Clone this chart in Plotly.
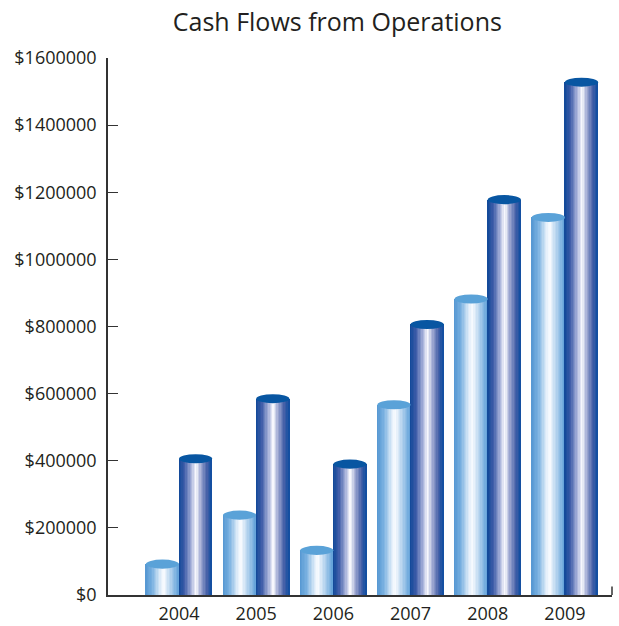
import plotly.graph_objects as go

# Operating cash flows per year, two series drawn as shaded cylinders
years = [2004, 2005, 2006, 2007, 2008, 2009]
series_light = [92000, 238000, 133000, 567000, 882000, 1125000]
series_dark = [406000, 585000, 390000, 806000, 1178000, 1528000]
y_ticks = [0, 200000, 400000, 600000, 800000, 1000000, 1200000, 1400000, 1600000]
y_tick_labels = [f"${v}" for v in y_ticks]

BAR_W = 0.43          # width of one cylinder, in year units
N_STRIPS = 24         # vertical strips used to fake the cylindrical shading
CAP_H = 13500         # half height of the elliptical cap, in dollars

light_stops = [(0.0, (84, 150, 210)), (0.2, (120, 176, 224)), (0.45, (224, 237, 249)),
               (0.55, (250, 252, 255)), (0.68, (205, 225, 244)), (0.88, (136, 185, 227)),
               (1.0, (96, 160, 216))]
dark_stops = [(0.0, (14, 72, 152)), (0.18, (62, 92, 168)), (0.38, (165, 176, 217)),
              (0.53, (252, 252, 255)), (0.66, (165, 174, 213)), (0.85, (72, 98, 168)),
              (1.0, (12, 76, 160))]
light_cap = "#5aa2d8"
dark_cap = "#0856a2"


def shade(stops, t):
    for (t0, c0), (t1, c1) in zip(stops, stops[1:]):
        if t0 <= t <= t1:
            f = (t - t0) / (t1 - t0)
            r, g, b = (round(a + (b_ - a) * f) for a, b_ in zip(c0, c1))
            return f"rgb({r},{g},{b})"
    return f"rgb{stops[-1][1]}"


fig = go.Figure()
strip_w = BAR_W / N_STRIPS
for values, stops, start in [(series_light, light_stops, -BAR_W), (series_dark, dark_stops, 0.0)]:
    for i in range(N_STRIPS):
        t = (i + 0.5) / N_STRIPS
        fig.add_trace(go.Bar(
            x=years, y=values,
            offset=start + i * strip_w, width=strip_w * 1.08,
            marker=dict(color=shade(stops, t), line=dict(width=0)),
            hoverinfo="skip", showlegend=False,
        ))

# elliptical tops of the cylinders
for values, start, cap in [(series_light, -BAR_W, light_cap), (series_dark, 0.0, dark_cap)]:
    for yr, v in zip(years, values):
        fig.add_shape(type="circle", xref="x", yref="y",
                      x0=yr + start, x1=yr + start + BAR_W,
                      y0=v - CAP_H, y1=v + CAP_H,
                      fillcolor=cap, line=dict(width=0), layer="above")

# small closing tick at the right end of the baseline
fig.add_shape(type="line", xref="paper", yref="paper", x0=1, x1=1, y0=0, y1=0.016,
              line=dict(color="#333333", width=1.5))

fig.update_layout(
    width=619, height=626,
    margin=dict(l=108, r=7, t=58, b=31),
    paper_bgcolor="white", plot_bgcolor="white",
    barmode="overlay", bargap=0,
    font=dict(family="Open Sans", color="#231f20", size=18),
    title=dict(text="Cash Flows from Operations", x=0.545, xanchor="center",
               y=0.964, yanchor="middle", font=dict(size=25, family="Open Sans", color="#231f20")),
    showlegend=False,
)
fig.update_xaxes(
    range=[2003.08, 2009.61], tickvals=years, ticktext=[str(y) for y in years],
    showline=True, linecolor="#333333", linewidth=1.5, ticks="", showgrid=False,
    zeroline=False, tickfont=dict(size=18), ticklabelstandoff=2, automargin=False,
)
fig.update_yaxes(
    range=[0, 1600000], tickvals=y_ticks, ticktext=y_tick_labels,
    showline=True, linecolor="#333333", linewidth=1.5, ticks="inside", ticklen=10,
    tickcolor="#333333", tickwidth=1.2, showgrid=False, zeroline=False,
    tickfont=dict(size=18), ticklabelstandoff=6, automargin=False,
)

fig.write_html("out.html")
